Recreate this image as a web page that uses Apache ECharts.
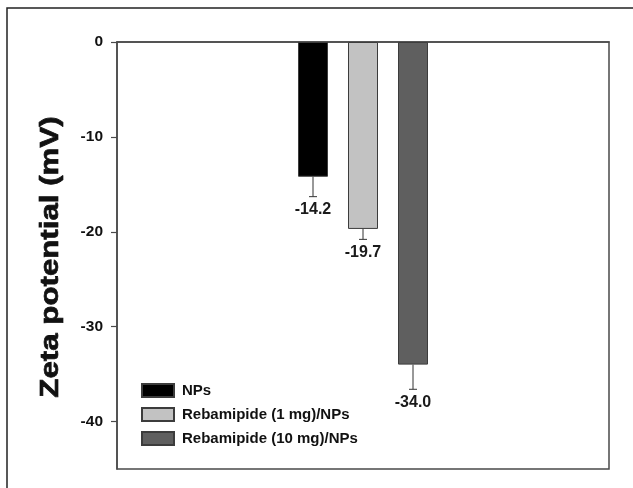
<!DOCTYPE html>
<html>
<head>
<meta charset="utf-8">
<script src="https://cdn.jsdelivr.net/npm/echarts@6/dist/echarts.min.js"></script>
<style>html,body{margin:0;padding:0;background:#fff;}#c{width:633px;height:488px;}</style>
</head>
<body>
<div id="c"></div>
<script>
var categories = ['NPs', 'Rebamipide (1 mg)/NPs', 'Rebamipide (10 mg)/NPs'];
var zetaValues = [-14.2, -19.7, -34.0];
var zetaErrors = [2.1, 1.1, 2.6];
var yTicks = [0, -10, -20, -30, -40];
var barColors = ['#000000', '#c2c2c2', '#5f5f5f'];

var chart = echarts.init(document.getElementById('c'), null, {renderer: 'canvas'});

var barSeries = categories.map(function (name, i) {
  return {
    name: name,
    type: 'bar',
    xAxisIndex: 1,
    yAxisIndex: 1,
    barWidth: 30,
    barGap: '-100%',
    itemStyle: {color: barColors[i], borderColor: '#3c3c3c', borderWidth: 1},
    data: categories.map(function (c, j) { return j === i ? zetaValues[j] : '-'; }),
    z: 2
  };
});

var errData = categories.map(function (c, j) { return [j, zetaValues[j], zetaErrors[j]]; });

var option = {
  animation: false,
  backgroundColor: '#ffffff',
  grid: [
    {left: 117, right: 24, top: 42, bottom: 19, show: true, borderColor: '#4a4a4a', borderWidth: 1.5, backgroundColor: 'transparent'},
    {left: 288, width: 150, top: 42, bottom: 19}
  ],
  xAxis: [
    {gridIndex: 0, type: 'category', data: [''], axisLine: {show: true, lineStyle: {color: '#4a4a4a', width: 1.5}}, axisTick: {show: false}, axisLabel: {show: false}},
    {gridIndex: 1, type: 'category', data: categories, show: false}
  ],
  yAxis: [
    {gridIndex: 0, type: 'value', min: -45, max: 0,
      axisLine: {show: true, lineStyle: {color: '#4a4a4a', width: 1.5}},
      axisTick: {show: true, length: 6, customValues: yTicks, lineStyle: {color: '#4a4a4a', width: 1.2}},
      axisLabel: {customValues: yTicks, margin: 14, color: '#111', fontFamily: 'Liberation Sans', fontWeight: 'bold', fontSize: 15.5},
      splitLine: {show: false}},
    {gridIndex: 1, type: 'value', min: -45, max: 0, show: false, splitLine: {show: false}}
  ],
  legend: {
    orient: 'vertical',
    left: 136,
    top: 378,
    itemWidth: 32,
    itemHeight: 13,
    itemGap: 9,
    icon: 'rect',
    data: categories,
    textStyle: {fontFamily: 'Liberation Sans', fontWeight: 'bold', fontSize: 15, color: '#111', lineHeight: 13, padding: [0, 0, 0, 3]},
    selectedMode: false
  },
  graphic: [
    {type: 'rect', shape: {x: 7, y: 8, width: 800, height: 700}, style: {fill: 'none', stroke: '#222', lineWidth: 1.5}, silent: true, z: 0},
    {type: 'text', x: 51, y: 257, rotation: Math.PI / 2, scaleX: 1.25,
      style: {text: 'Zeta potential (mV)', font: 'bold 25px "Liberation Sans"', fill: '#111', stroke: '#111', lineWidth: 0.7, align: 'center', verticalAlign: 'middle'}, z: 10}
  ],
  series: barSeries.concat([{
    type: 'custom',
    xAxisIndex: 1,
    yAxisIndex: 1,
    z: 3,
    data: errData,
    renderItem: function (params, api) {
      var x = api.value(0), v = api.value(1), e = api.value(2);
      var top = api.coord([x, v]);
      var bot = api.coord([x, v - e]);
      var hw = 4;
      return {type: 'group', children: [
        {type: 'line', shape: {x1: top[0], y1: top[1], x2: bot[0], y2: bot[1]}, style: {stroke: '#333', lineWidth: 1}},
        {type: 'line', shape: {x1: bot[0] - hw, y1: bot[1], x2: bot[0] + hw, y2: bot[1]}, style: {stroke: '#333', lineWidth: 1}},
        {type: 'text', x: bot[0], y: bot[1] + 5, style: {text: v.toFixed(1), font: 'bold 16px "Liberation Sans"', fill: '#1a1a1a', align: 'center', verticalAlign: 'top'}}
      ]};
    }
  }])
};
chart.setOption(option);
</script>
</body>
</html>
